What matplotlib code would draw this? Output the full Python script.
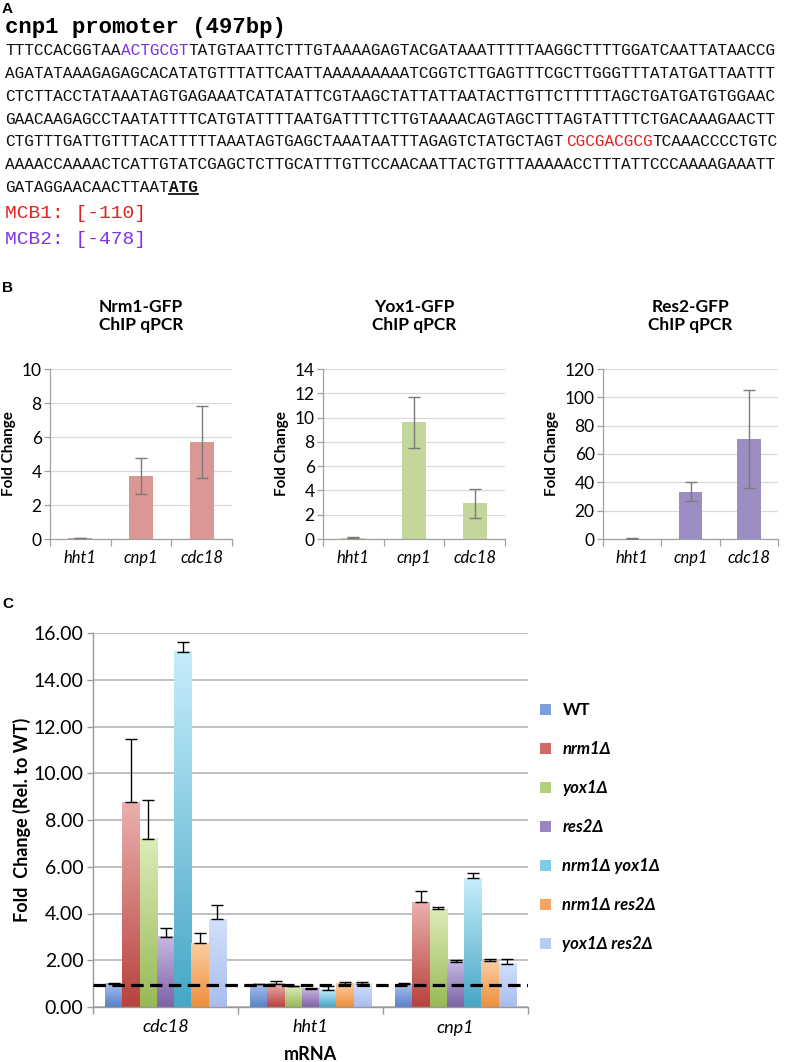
import matplotlib
matplotlib.use('Agg')
import matplotlib.pyplot as plt
import numpy as np
from matplotlib.patches import Patch
from matplotlib.lines import Line2D
from matplotlib.colors import to_rgb

# ---------------- data ----------------
promoter_title = "cnp1 promoter (497bp)"
# each sequence line as segments (text, style)
seq_line1 = [("TTTCCACGGTAA", "k"), ("ACTGCGT", "mcb2"), ("TATGTAATTCTTTGTAAAAGAGTACGATAAATTTTTAAGGCTTTTGGATCAATTATAACCG", "k")]
seq_line2 = [("AGATATAAAGAGAGCACATATGTTTATTCAATTAAAAAAAAATCGGTCTTGAGTTTCGCTTGGGTTTATATGATTAATTT", "k")]
seq_line3 = [("CTCTTACCTATAAATAGTGAGAAATCATATATTCGTAAGCTATTATTAATACTTGTTCTTTTTAGCTGATGATGTGGAAC", "k")]
seq_line4 = [("GAACAAGAGCCTAATATTTTCATGTATTTTAATGATTTTCTTGTAAAACAGTAGCTTTAGTATTTTCTGACAAAGAACTT", "k")]
seq_line5 = [("CTGTTTGATTGTTTACATTTTTAAATAGTGAGCTAAATAATTTAGAGTCTATGCTAGT", "k"), ("CGCGACGCG", "mcb1"), ("TCAAACCCCTGTC", "k")]
seq_line6 = [("AAAACCAAAACTCATTGTATCGAGCTCTTGCATTTGTTCCAACAATTACTGTTTAAAAACCTTTATTCCCAAAAGAAATT", "k")]
seq_line7 = [("GATAGGAACAACTTAAT", "k"), ("ATG", "atg")]
seq_lines = [seq_line1, seq_line2, seq_line3, seq_line4, seq_line5, seq_line6, seq_line7]
mcb_labels = ["MCB1: [-110]", "MCB2: [-478]"]

chip_titles = ["Nrm1-GFP\nChIP qPCR", "Yox1-GFP\nChIP qPCR", "Res2-GFP\nChIP qPCR"]
chip_genes = ["hht1", "cnp1", "cdc18"]
nrm1_chip = [0.05, 3.7, 5.7]
nrm1_chip_err = [0.02, 1.07, 2.1]
yox1_chip = [0.1, 9.6, 2.95]
yox1_chip_err = [0.05, 2.1, 1.2]
res2_chip = [0.3, 33.5, 70.5]
res2_chip_err = [0.2, 6.5, 34.5]
chip_ymax = [10, 14, 120]
chip_ystep = [2, 2, 20]

mrna_genes = ["cdc18", "hht1", "cnp1"]
strains = ["WT", "nrm1\u0394", "yox1\u0394", "res2\u0394", "nrm1\u0394 yox1\u0394", "nrm1\u0394 res2\u0394", "yox1\u0394 res2\u0394"]
wt_vals = [1.0, 0.98, 0.98]
wt_err = [0.03, 0.02, 0.03]
nrm1_vals = [8.75, 1.0, 4.48]
nrm1_err = [2.7, 0.13, 0.5]
yox1_vals = [7.2, 0.88, 4.18]
yox1_err = [1.67, 0.02, 0.1]
res2_vals = [3.0, 0.78, 1.93]
res2_err = [0.4, 0.05, 0.07]
nrm1yox1_vals = [15.2, 0.73, 5.5]
nrm1yox1_err = [0.43, 0.17, 0.22]
nrm1res2_vals = [2.72, 1.0, 1.95]
nrm1res2_err = [0.43, 0.05, 0.12]
yox1res2_vals = [3.75, 1.0, 1.85]
yox1res2_err = [0.63, 0.05, 0.22]
wt_level = 0.95

# ---------------- style ----------------
W, H = 791, 1062
fig = plt.figure(figsize=(W / 100, H / 100), dpi=100)
SANS = ['Lato', 'DejaVu Sans']
MONO = ['Liberation Mono', 'DejaVu Sans Mono']
LABEL = ['Liberation Sans', 'DejaVu Sans']

def fx(x):
    return x / W

def fy(y):
    return 1 - y / H

# ---------------- panel A ----------------
fig.text(fx(2), fy(9), "A", family=LABEL, weight='bold', fontsize=11, va='center', ha='left')
fig.text(fx(5), fy(27), promoter_title, family=MONO, weight='bold', fontsize=16, va='center', ha='left')

seq_fs = 11.6
cw = seq_fs * 100 / 72 * 0.6001
style_col = {"k": "#111111", "mcb1": "#e02424", "mcb2": "#8033e6", "atg": "#111111"}
for li, segs in enumerate(seq_lines):
    yc = 51 + li * 22.7
    xi = 0
    for txt, st in segs:
        x0 = 5 + xi * cw
        fig.text(fx(x0), fy(yc), txt, family=MONO, fontsize=seq_fs, color=style_col[st],
                 weight='bold' if st == 'atg' else 'normal', va='center', ha='left')
        if st == 'atg':
            fig.add_artist(Line2D([fx(x0), fx(x0 + len(txt) * cw)], [fy(yc + 7), fy(yc + 7)],
                                  color='#111111', lw=1.3, transform=fig.transFigure))
        xi += len(txt)

fig.text(fx(5), fy(213), mcb_labels[0], family=MONO, fontsize=14, color="#e02424", va='center', ha='left')
fig.text(fx(5), fy(240), mcb_labels[1], family=MONO, fontsize=14, color="#8033e6", va='center', ha='left')

# ---------------- panel B ----------------
fig.text(fx(2), fy(288), "B", family=LABEL, weight='bold', fontsize=11, va='center', ha='left')
chip_vals = [nrm1_chip, yox1_chip, res2_chip]
chip_errs = [nrm1_chip_err, yox1_chip_err, res2_chip_err]
chip_cols = ["#d99893", "#c3d69b", "#9c8ec2"]
chip_boxes = [(50, 232), (323, 505), (603, 778)]
for k in range(3):
    l, r = chip_boxes[k]
    ax = fig.add_axes([fx(l), fy(539), fx(r - l), (539 - 369) / H])
    x = np.arange(3)
    ax.bar(x, chip_vals[k], width=0.4, color=chip_cols[k], zorder=2)
    ax.errorbar(x, chip_vals[k], yerr=chip_errs[k], fmt='none', ecolor='#7a7a7a',
                elinewidth=1.0, capsize=4, capthick=1.0, zorder=3)
    ax.set_xlim(-0.5, 2.5)
    ax.set_ylim(0, chip_ymax[k])
    ax.set_yticks(np.arange(0, chip_ymax[k] + 1, chip_ystep[k]))
    ax.yaxis.grid(True, color='#d9d9d9', lw=0.9, zorder=0)
    ax.set_axisbelow(True)
    ax.set_xticks(x)
    ax.set_xticklabels(chip_genes, fontstyle='italic', family=SANS, fontsize=12)
    ax.set_xticks([-0.5, 0.5, 1.5, 2.5], minor=True)
    ax.tick_params(axis='x', which='major', length=0, pad=8)
    ax.tick_params(axis='x', which='minor', length=5, color='#a0a0a0', width=0.9)
    ax.tick_params(axis='y', length=4, color='#a0a0a0', width=0.9, labelsize=12.5, pad=2)
    for t in ax.get_yticklabels():
        t.set_family(SANS)
    for s in ['top', 'right']:
        ax.spines[s].set_visible(False)
    for s in ['left', 'bottom']:
        ax.spines[s].set_color('#a0a0a0')
        ax.spines[s].set_linewidth(0.9)
    ax.set_ylabel("Fold Change", family=SANS, weight='bold', fontsize=11, labelpad=4)
    ax.set_title(chip_titles[k], family=SANS, weight='bold', fontsize=12.5, pad=28, linespacing=1.15)

# ---------------- panel C ----------------
fig.text(fx(2), fy(604), "C", family=LABEL, weight='bold', fontsize=11, va='center', ha='left')
axc = fig.add_axes([fx(93), fy(1007), fx(528 - 93), (1007 - 633) / H])
series = [wt_vals, nrm1_vals, yox1_vals, res2_vals, nrm1yox1_vals, nrm1res2_vals, yox1res2_vals]
series_err = [wt_err, nrm1_err, yox1_err, res2_err, nrm1yox1_err, nrm1res2_err, yox1res2_err]
top_cols = ["#a7c0ec", "#eab0ad", "#dcecb8", "#c7b9e2", "#c6edfc", "#fbcda2", "#d3e0fb"]
bot_cols = ["#5a80c8", "#b8423e", "#98b956", "#7d62a5", "#46a7c5", "#ef8f3b", "#a7bdee"]
legend_cols = ["#7c9fdc", "#d06a67", "#b5d07b", "#9a84c2", "#7fcce6", "#f5a55f", "#b9cbf2"]
bw = 0.1192
xc = np.arange(len(mrna_genes))
for i in range(7):
    xs = xc + (i - 3) * bw
    bars = axc.bar(xs, series[i], width=bw, color=legend_cols[i], zorder=2)
    for p in bars.patches:
        grad = np.linspace(0, 1, 128)[:, None, None]
        img = (1 - grad) * np.array(to_rgb(bot_cols[i])) + grad * np.array(to_rgb(top_cols[i]))
        axc.imshow(img, extent=(p.get_x(), p.get_x() + p.get_width(), 0, p.get_height()),
                   origin='lower', aspect='auto', zorder=2.1, interpolation='bilinear')
    axc.errorbar(xs, series[i], yerr=[np.zeros(3), series_err[i]], fmt='none', ecolor='black',
                 elinewidth=1.0, capsize=4, capthick=1.0, zorder=3)
axc.axhline(wt_level, color='black', lw=2.3, linestyle=(0, (3.9, 2.0)), zorder=4)
axc.set_xlim(-0.5, 2.5)
axc.set_ylim(0, 16)
axc.set_yticks(np.arange(0, 17, 2))
axc.set_yticklabels(["%.2f" % v for v in np.arange(0, 17, 2)], family=SANS, fontsize=14)
axc.yaxis.grid(True, color='#b5b5b5', lw=1.2, zorder=0)
axc.set_axisbelow(True)
axc.set_xticks(xc)
axc.set_xticklabels(mrna_genes, fontstyle='italic', family=SANS, fontsize=13)
axc.set_xticks([-0.5, 0.5, 1.5, 2.5], minor=True)
axc.tick_params(axis='x', which='major', length=0, pad=9)
axc.tick_params(axis='x', which='minor', length=5, color='#9a9a9a', width=1.0)
axc.tick_params(axis='y', length=4, color='#9a9a9a', width=1.0, pad=3)
for s in ['top', 'right']:
    axc.spines[s].set_visible(False)
for s in ['left', 'bottom']:
    axc.spines[s].set_color('#9a9a9a')
    axc.spines[s].set_linewidth(1.0)
axc.set_ylabel("Fold  Change (Rel. to WT)", family=SANS, weight='bold', fontsize=13)
axc.yaxis.set_label_coords(-0.142, 0.5)
axc.set_xlabel("mRNA", family=SANS, weight='bold', fontsize=13)
axc.xaxis.set_label_coords(0.5, -0.105)

handles = [Patch(facecolor=c, edgecolor='none') for c in legend_cols]
leg = axc.legend(handles, strains, loc='upper left', bbox_to_anchor=(fx(540), fy(702)),
                 bbox_transform=fig.transFigure, frameon=False, handlelength=0.65, handleheight=0.65,
                 handletextpad=0.7, labelspacing=1.38, borderpad=0, borderaxespad=0,
                 prop={'family': SANS, 'weight': 'bold', 'size': 12})
for j, t in enumerate(leg.get_texts()):
    if j > 0:
        t.set_fontstyle('italic')

fig.savefig("out.png", dpi=100, facecolor='white')
